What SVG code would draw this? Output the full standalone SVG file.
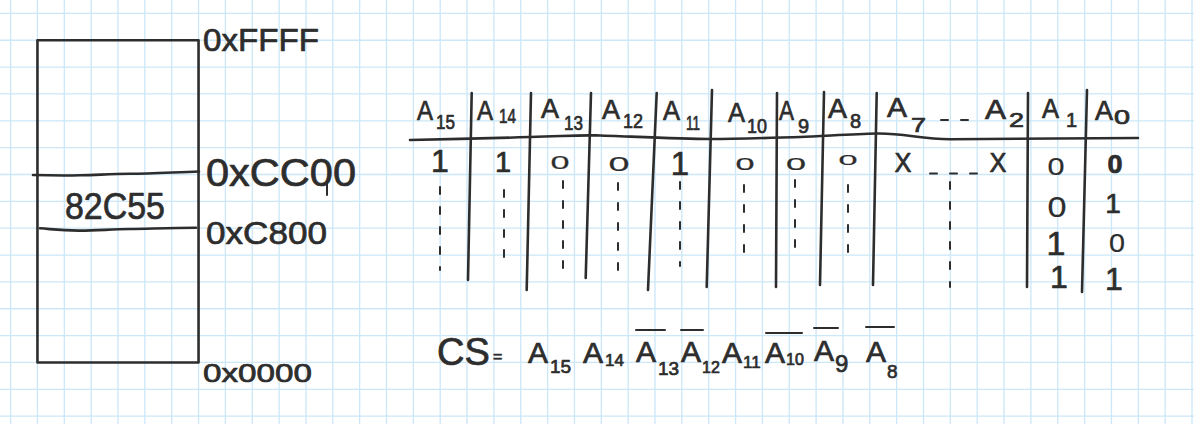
<svg xmlns="http://www.w3.org/2000/svg" width="1194" height="424" viewBox="0 0 1194 424">
<style>
.grid{fill:none;stroke:#cbe7f8;stroke-width:1.3}
.ink{fill:none;stroke:#2d2d2d;stroke-width:2.6;stroke-linecap:round;stroke-linejoin:round}
.thin{fill:none;stroke:#2d2d2d;stroke-width:2;stroke-linecap:round}
.dash{fill:none;stroke:#2d2d2d;stroke-width:2;stroke-linecap:round;stroke-dasharray:7 13}
text{font-family:"Liberation Sans",Arial,sans-serif;fill:#2d2d2d;stroke:#2d2d2d;stroke-width:0.7;stroke-linejoin:round}
.hA{font-size:28px}
.hs{font-size:20px}
.v{text-anchor:middle}
.z{stroke-width:0.2}
.eq{font-size:30px}
</style>
<rect width="1194" height="424" fill="#ffffff"/>
<path class="grid" d="M10.6 0V424M37.45 0V424M64.3 0V424M91.15 0V424M118 0V424M144.85 0V424M171.7 0V424M198.55 0V424M225.4 0V424M252.25 0V424M279.1 0V424M305.95 0V424M332.8 0V424M359.65 0V424M386.5 0V424M413.35 0V424M440.2 0V424M467.05 0V424M493.9 0V424M520.75 0V424M547.6 0V424M574.45 0V424M601.3 0V424M628.15 0V424M655 0V424M681.85 0V424M708.7 0V424M735.55 0V424M762.4 0V424M789.25 0V424M816.1 0V424M842.95 0V424M869.8 0V424M896.65 0V424M923.5 0V424M950.35 0V424M977.2 0V424M1004.05 0V424M1030.9 0V424M1057.75 0V424M1084.6 0V424M1111.45 0V424M1138.3 0V424M1165.15 0V424M1192 0V424M0 13.4H1194M0 40.25H1194M0 67.1H1194M0 93.95H1194M0 120.8H1194M0 147.65H1194M0 174.5H1194M0 201.35H1194M0 228.2H1194M0 255.05H1194M0 281.9H1194M0 308.75H1194M0 335.6H1194M0 362.45H1194M0 389.3H1194M0 416.15H1194"/>

<g id="memory-map">
  <rect class="ink" x="37.45" y="40.25" width="161.1" height="322.2" stroke-linecap="square"/>
  <path class="ink" d="M33 175 C50 175.5 60 175.8 80 175.3 S110 174 130 173.8 S170 172.5 199 171.5"/>
  <path class="ink" d="M40 228.3 C55 229.5 62 230.7 80 230.6 S110 229.3 130 229 S170 228 196 227.8"/>
  <text x="65" y="219" font-size="36" textLength="100" lengthAdjust="spacingAndGlyphs">82C55</text>
  <text x="203" y="51" font-size="31" textLength="116" lengthAdjust="spacingAndGlyphs">0xFFFF</text>
  <text x="206" y="186" font-size="38" textLength="150" lengthAdjust="spacingAndGlyphs">0xCC00</text>
  <text x="206" y="244" font-size="32" textLength="121" lengthAdjust="spacingAndGlyphs">0xC800</text>
  <text x="203" y="382" font-size="26" textLength="109" lengthAdjust="spacingAndGlyphs">0x0000</text>
  <path class="thin" d="M327 184V195" stroke-width="1.5"/>
</g>

<g id="table-lines">
  <path class="ink" d="M410 140 C440 139.5 470 139 530 137 S580 135 600 135.5 S680 139 710 139 S780 137.5 800 137 S850 134 877 133.5 S920 139 950 139.2 S1050 138 1138 138"/>
  <path class="ink" d="M471.7 93 L468 280"/>
  <path class="ink" d="M531 93 L526.7 290"/>
  <path class="ink" d="M591 93 L585.7 278"/>
  <path class="ink" d="M656.7 93 L648 290"/>
  <path class="ink" d="M712 90 L706.7 287"/>
  <path class="ink" d="M777 93 L776 287"/>
  <path class="ink" d="M824 92 L820 285"/>
  <path class="ink" d="M876.7 93 L873 285"/>
  <path class="ink" d="M1028 93 L1027 287"/>
  <path class="ink" d="M1087 90 L1082 292"/>
</g>

<g id="table-header">
  <text class="hA" x="417" y="120" textLength="16" lengthAdjust="spacingAndGlyphs">A</text><text class="hs" x="436" y="129" textLength="19" lengthAdjust="spacingAndGlyphs">15</text>
  <text class="hA" x="477" y="120" textLength="16" lengthAdjust="spacingAndGlyphs">A</text><text class="hs" x="499" y="123" textLength="17" lengthAdjust="spacingAndGlyphs">14</text>
  <text class="hA" x="541" y="118" textLength="18" lengthAdjust="spacingAndGlyphs">A</text><text class="hs" x="564" y="130" textLength="19" lengthAdjust="spacingAndGlyphs">13</text>
  <text class="hA" x="602" y="119" textLength="18" lengthAdjust="spacingAndGlyphs">A</text><text class="hs" x="623" y="128" textLength="20" lengthAdjust="spacingAndGlyphs">12</text>
  <text class="hA" x="663" y="120" textLength="17" lengthAdjust="spacingAndGlyphs">A</text><text class="hs" x="686" y="130" textLength="14" lengthAdjust="spacingAndGlyphs">11</text>
  <text class="hA" x="728" y="122" textLength="17" lengthAdjust="spacingAndGlyphs">A</text><text class="hs" x="747" y="133" textLength="20" lengthAdjust="spacingAndGlyphs">10</text>
  <text class="hA" x="779" y="120" textLength="15" lengthAdjust="spacingAndGlyphs">A</text><text class="hs" x="798" y="133">9</text>
  <text class="hA" x="828" y="118" textLength="19" lengthAdjust="spacingAndGlyphs">A</text><text class="hs" x="850" y="128">8</text>
  <text class="hA" x="887" y="117" textLength="20" lengthAdjust="spacingAndGlyphs">A</text><text class="hs" x="911" y="132" textLength="15" lengthAdjust="spacingAndGlyphs">7</text>
  <path class="dash" d="M941 120H981" stroke-dasharray="6 9"/>
  <text class="hA" x="985" y="119" textLength="21" lengthAdjust="spacingAndGlyphs">A</text><text class="hs" x="1009" y="127" textLength="15" lengthAdjust="spacingAndGlyphs">2</text>
  <text class="hA" x="1042" y="118" textLength="17" lengthAdjust="spacingAndGlyphs">A</text><text class="hs" x="1066" y="127">1</text>
  <text class="hA" x="1095" y="120" textLength="18" lengthAdjust="spacingAndGlyphs">A</text><text class="hs" x="1114" y="124" font-size="15" textLength="16" lengthAdjust="spacingAndGlyphs">0</text>
</g>

<g id="table-values">
  <text class="v" x="440" y="172" font-size="32">1</text>
  <text class="v" x="503" y="172" font-size="29">1</text>
  <text class="v z" x="560" y="169" font-size="19" textLength="19" lengthAdjust="spacingAndGlyphs">0</text>
  <text class="v z" x="619" y="171" font-size="21" textLength="21" lengthAdjust="spacingAndGlyphs">0</text>
  <text class="v" x="680" y="175" font-size="33">1</text>
  <text class="v z" x="745" y="170" font-size="17" textLength="19" lengthAdjust="spacingAndGlyphs">0</text>
  <text class="v z" x="796" y="170" font-size="16" textLength="20" lengthAdjust="spacingAndGlyphs">0</text>
  <text class="v z" x="848" y="165" font-size="15" textLength="19" lengthAdjust="spacingAndGlyphs">0</text>
  <text class="v" x="903" y="172" font-size="27" textLength="17" lengthAdjust="spacingAndGlyphs">X</text>
  <path class="dash" d="M930 173.5H984" stroke-dasharray="6 12"/>
  <text class="v" x="998" y="172" font-size="27" textLength="17" lengthAdjust="spacingAndGlyphs">X</text>
  <text class="v z" x="1056" y="175" font-size="24" textLength="17" lengthAdjust="spacingAndGlyphs">0</text>
  <text class="v" x="1115" y="173" font-size="25" font-weight="bold" textLength="15" lengthAdjust="spacingAndGlyphs">0</text>
  <text class="v z" x="1057" y="217" font-size="30" textLength="19" lengthAdjust="spacingAndGlyphs">0</text>
  <text class="v" x="1113" y="213" font-size="28">1</text>
  <text class="v" x="1056" y="255" font-size="34">1</text>
  <text class="v z" x="1117" y="252" font-size="26" textLength="16" lengthAdjust="spacingAndGlyphs">0</text>
  <text class="v" x="1059" y="288" font-size="32">1</text>
  <text class="v" x="1114" y="290" font-size="32">1</text>
</g>

<g id="ditto-marks">
  <path class="dash" d="M440 187V270" stroke-dasharray="7 29"/>
  <path class="dash" d="M504 190V270" stroke-dasharray="7 15"/>
  <path class="dash" d="M563 181V270" stroke-dasharray="14 18"/>
  <path class="dash" d="M618 183V270" stroke-dasharray="12 16"/>
  <path class="dash" d="M680 182V266" stroke-dasharray="22 15"/>
  <path class="dash" d="M744 185V262" stroke-dasharray="12 18"/>
  <path class="dash" d="M795 180V254" stroke-dasharray="12 22"/>
  <path class="dash" d="M848 185V257" stroke-dasharray="12 22"/>
  <path class="dash" d="M950 182V287" stroke-dasharray="8 18"/>
</g>

<g id="equation">
  <path class="thin" d="M636 330H665M681 330H703M766 333H802M814 328H838M866 327H894"/>
  <text class="eq"><tspan x="437" y="365" font-size="38">CS</tspan><tspan x="493" y="362" font-size="16">=</tspan><tspan x="528" y="363">A</tspan><tspan x="550" y="373" font-size="19">15</tspan><tspan x="583" y="363">A</tspan><tspan x="605" y="366" font-size="17">14</tspan><tspan x="636" y="362">A</tspan><tspan x="658" y="375" font-size="19">13</tspan><tspan x="681" y="362">A</tspan><tspan x="702" y="373" font-size="16">12</tspan><tspan x="722" y="363">A</tspan><tspan x="743" y="368" font-size="17">11</tspan><tspan x="765" y="363">A</tspan><tspan x="786" y="365" font-size="16">10</tspan><tspan x="814" y="361">A</tspan><tspan x="835" y="372" font-size="24">9</tspan><tspan x="866" y="362">A</tspan><tspan x="887" y="378" font-size="19">8</tspan></text>
</g>
</svg>
